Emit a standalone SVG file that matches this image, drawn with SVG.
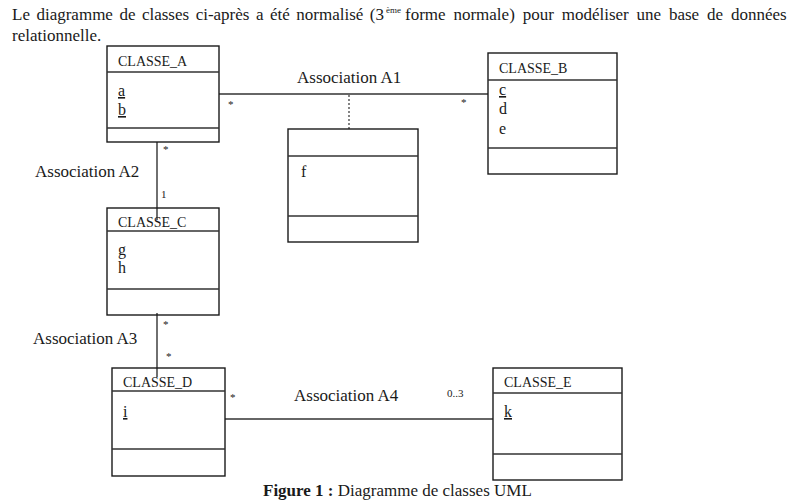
<svg xmlns="http://www.w3.org/2000/svg" width="797" height="502" viewBox="0 0 797 502">
<style>
text{font-family:"Liberation Serif","Times New Roman",serif;fill:#1a1a1a}
.box{fill:#fff;stroke:#1a1a1a;stroke-width:1.4}
.div{stroke:#333;stroke-width:1.3}
.title{font-size:14px}
.attr{font-size:16px}
.u{text-decoration:underline}
.lbl{font-size:17px}
.mult{font-size:11px;fill:#222}
.con{stroke:#333;stroke-width:1.4;fill:none}
.dot{stroke:#333;stroke-width:1.2;stroke-dasharray:2 2;fill:none}
.para{font-size:17px}
</style>
<rect width="797" height="502" fill="#fff"/>
<g id="paragraph">
<text class="para" x="12" y="20" word-spacing="2.25">Le diagramme de classes ci-après a été normalisé (3</text>
<text x="386" y="13" font-size="9">ème</text>
<text class="para" x="405" y="20" word-spacing="3.6">forme normale) pour modéliser une base de données</text>
<text class="para" x="12" y="41">relationnelle.</text>
</g>
<g id="connectors">
<line class="con" x1="219" y1="94" x2="488" y2="94"/>
<line class="dot" x1="349" y1="95" x2="349" y2="137"/>
<line class="con" x1="157" y1="140" x2="157" y2="220"/>
<line class="con" x1="157" y1="313" x2="157" y2="377"/>
<line class="con" x1="225" y1="419" x2="493" y2="419"/>
<text class="lbl" x="297" y="83">Association A1</text>
<text class="lbl" x="35" y="177">Association A2</text>
<text class="lbl" x="33" y="344">Association A3</text>
<text class="lbl" x="294" y="401">Association A4</text>
<text class="mult" x="228" y="108">*</text>
<text class="mult" x="461" y="106">*</text>
<text class="mult" x="163" y="153">*</text>
<text class="mult" x="161" y="198" font-size="10">1</text>
<text class="mult" x="163" y="328">*</text>
<text class="mult" x="166" y="360">*</text>
<text class="mult" x="230" y="401">*</text>
<text class="mult" x="447" y="397" font-size="10">0..3</text>
</g>
<g id="class_a">
<rect class="box" x="107" y="46" width="112" height="96"/>
<line class="div" x1="107" y1="72" x2="219" y2="72"/>
<line class="div" x1="107" y1="128" x2="219" y2="128"/>
<text class="title" x="118" y="66">CLASSE_A</text>
<text class="attr u" x="118" y="96">a</text>
<text class="attr u" x="118" y="115">b</text>
</g>
<g id="class_b">
<rect class="box" x="488" y="53" width="129" height="121"/>
<line class="div" x1="488" y1="80" x2="617" y2="80"/>
<line class="div" x1="488" y1="148" x2="617" y2="148"/>
<text class="title" x="499" y="73">CLASSE_B</text>
<text class="attr u" x="499" y="95">c</text>
<text class="attr" x="499" y="114">d</text>
<text class="attr" x="499" y="134">e</text>
</g>
<g id="assoc_class">
<rect class="box" x="288" y="129" width="130" height="113"/>
<line class="div" x1="288" y1="156" x2="418" y2="156"/>
<line class="div" x1="288" y1="216" x2="418" y2="216"/>
<text class="attr" x="301" y="177">f</text>
</g>
<g id="class_c">
<rect class="box" x="107" y="208" width="112" height="107" fill-opacity="0"/>
<line class="div" x1="107" y1="231" x2="219" y2="231"/>
<line class="div" x1="107" y1="289" x2="219" y2="289"/>
<text class="title" x="118" y="227">CLASSE_C</text>
<text class="attr u" x="118" y="255">g</text>
<text class="attr" x="118" y="273">h</text>
</g>
<g id="class_d">
<rect class="box" x="112" y="368" width="113" height="108" fill-opacity="0"/>
<line class="div" x1="112" y1="391" x2="225" y2="391"/>
<line class="div" x1="112" y1="449" x2="225" y2="449"/>
<text class="title" x="123" y="387">CLASSE_D</text>
<text class="attr u" x="123" y="417">i</text>
</g>
<g id="class_e">
<rect class="box" x="493" y="368" width="129" height="112"/>
<line class="div" x1="493" y1="393" x2="622" y2="393"/>
<line class="div" x1="493" y1="454" x2="622" y2="454"/>
<text class="title" x="504" y="387">CLASSE_E</text>
<text class="attr u" x="504" y="417">k</text>
</g>
<g id="caption">
<text x="263" y="496" font-size="17"><tspan font-weight="bold">Figure 1 :</tspan> Diagramme de classes UML</text>
</g>
</svg>
